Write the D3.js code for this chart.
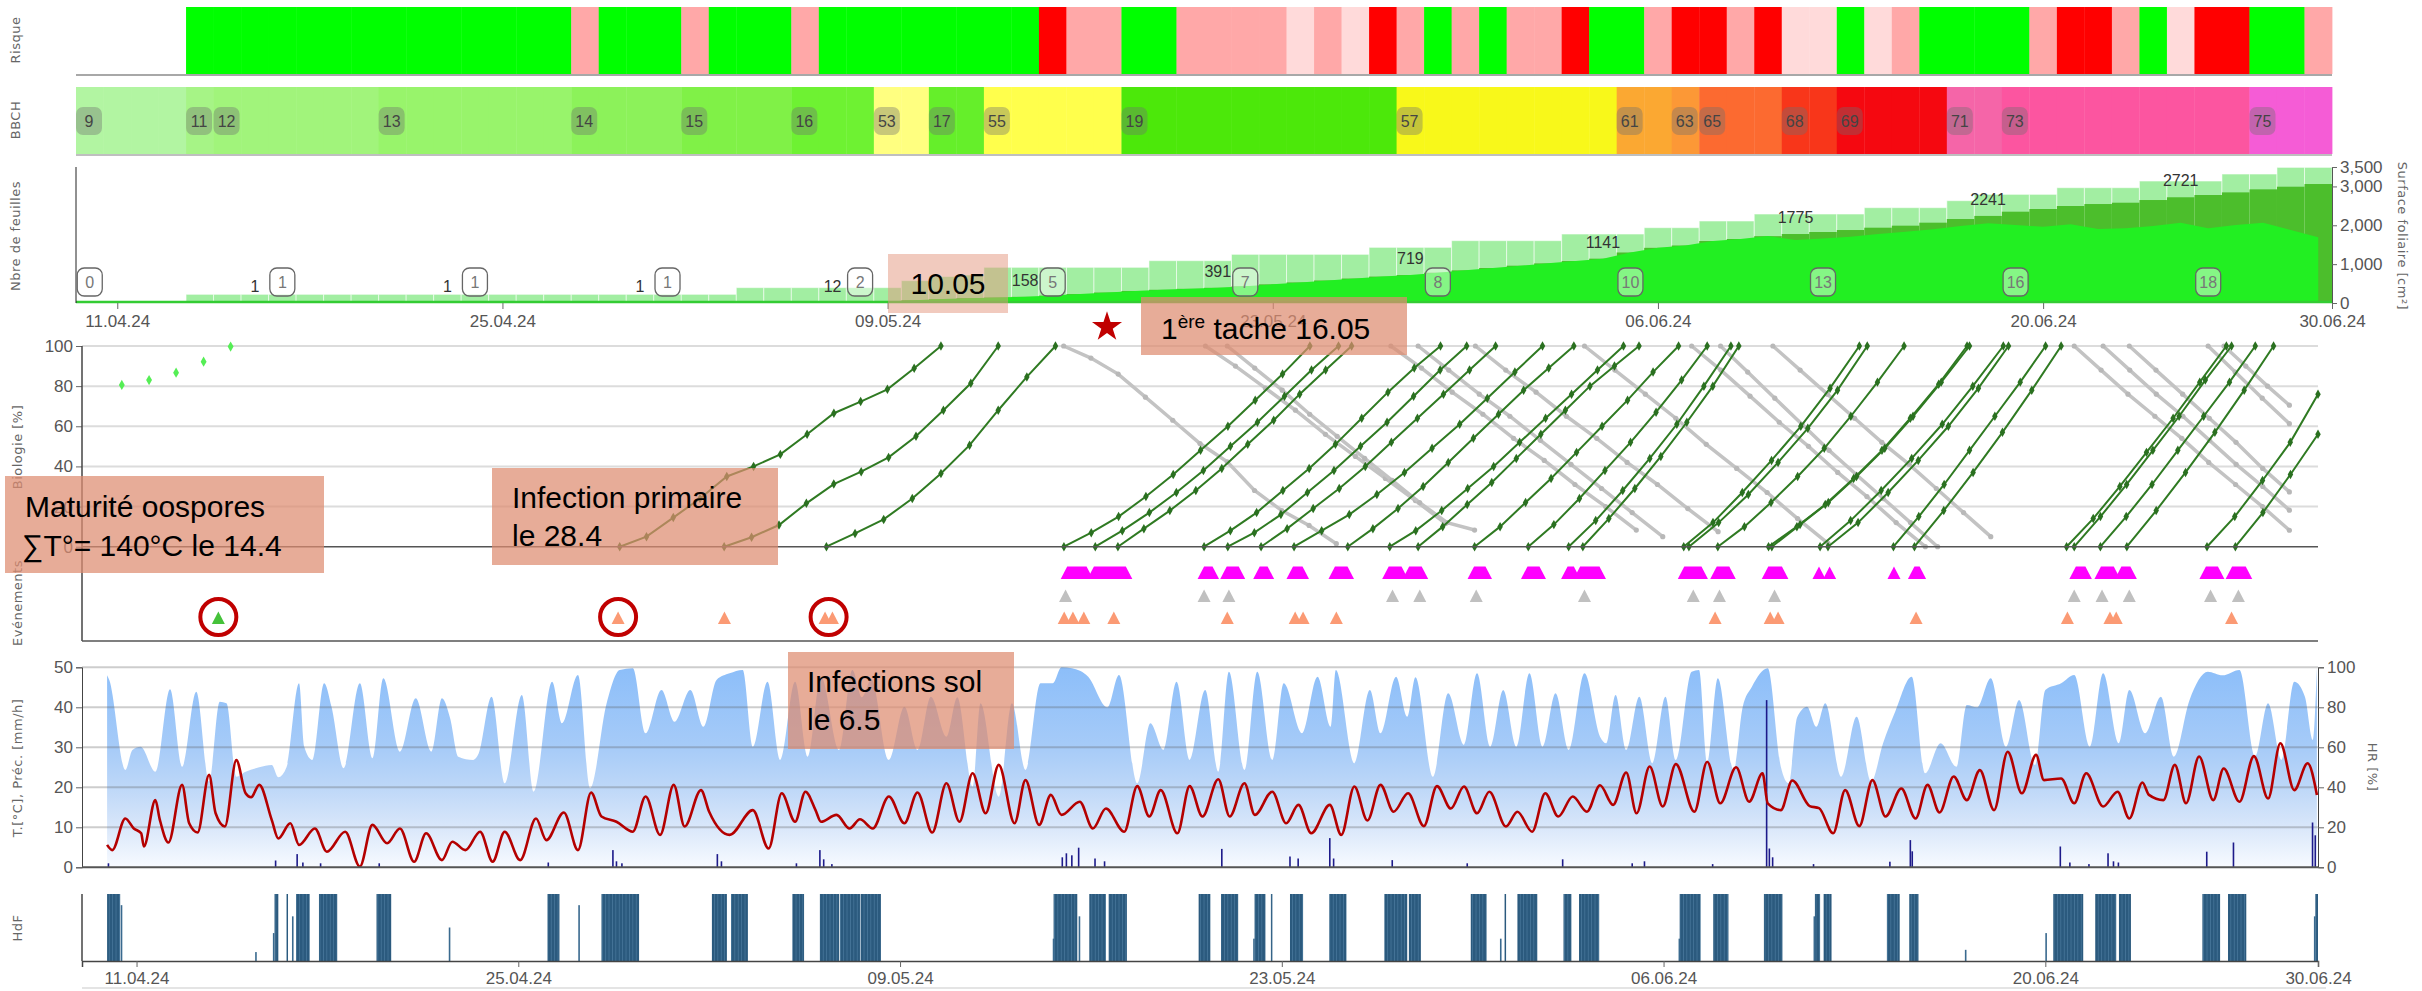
<!DOCTYPE html>
<html>
<head>
<meta charset="utf-8">
<script src="https://cdn.jsdelivr.net/npm/d3@7"></script>
<style>
  body { margin: 0; background: #fff; }
  text { font-family: "Liberation Sans", Arial, sans-serif; }
  .tick text { fill: #555; font-size: 17px; }
  .tick line { stroke: #666; }
  .title { fill: #666; font-size: 13px; font-family: "DejaVu Sans", sans-serif; letter-spacing: 0.5px; }
  .note { font-size: 30px; fill: #000; }
</style>
</head>
<body>
<svg id="chart"></svg>
<script>
// day offsets are counted from 09.04.24 00:00
const BASE = Date.UTC(2024, 3, 9);
const day = d => new Date(BASE + d * 864e5);
const fmt = d3.utcFormat("%d.%m.%y");

// ---------- data ----------
// risk per day cell (10.04 .. 30.06): 0 none, 1 low, 2 medium, 3 high, 4 light
const riskCodes = [0,0,0,0, 1,1,1,1,1,1,1,1,1,1,1,1,1,1, 2, 1,1,1, 2, 1,1,1, 2,
  1,1,1,1,1,1,1,1, 3, 2,2, 1,1, 2,2,2,2, 4, 2, 4, 3, 2, 1, 2, 1, 2,2, 3, 1,1, 2,
  3,3, 2, 3, 4,4, 1, 4, 2, 1,1,1,1, 2, 3,3, 2, 1, 4, 3,3, 1,1, 2];
const riskColors = ["#ffffff", "#00ff00", "#ffa8a8", "#ff0000", "#ffdada"];

const bbchStart = [0, 4, 5, 11, 18, 22, 26, 29, 31, 33, 38, 48, 56, 58, 59, 62, 64, 68, 70, 79];
const bbchLabel = ["9","11","12","13","14","15","16","53","17","55","19","57","61","63","65","68","69","71","73","75"];
const bbchColor = ["#b2f5a2","#a6f486","#a1f47b","#98f46b","#8cf25a","#80f147","#6ef232","#ffff80","#65ef2a",
  "#ffff4c","#4ce80a","#f8f81a","#fba832","#fc9836","#fc6a30","#f8361a","#f50810","#f565a8","#fc55a0","#f55cd6"];

const leafTotal = [0,0,0,0,
  223,223,223,223,223,223,223,223,223,223,223,223,223,223,223,223,223,223,223,223,
  395,395,395,395,395,395, 575,680,720, 918,918,918,918,918,918, 1089,1089,1089,
  1252,1252,1252,1252,1252, 1432,1432,1432, 1604,1604,1604,1604, 1775,1775,1775,
  1938,1938, 2110,2110, 2290,2290,2290,2290, 2453,2453,2453, 2633, 2796,2796,2796,
  2967,2967,2967, 3139,3139,3139, 3319,3319, 3490,3490];
const leafMid = [0,0,0,0, 1,1,1,1,1,1,1,1,1,1,1,1,1,1,1,1,1,
  2,3,4,5,7,9,12, 20,40,70,100,125,140,158, 190,230,270,310,340,365,391,
  430,480,530,580,630,680,719, 780,840,900,960,1020,1080,1141,
  1300,1420,1480,1595,1647,1720,1775, 1827,1878,1938,1990,2067,2161,2241,
  2350,2419,2496,2547,2581,2650,2721, 2779,2847,2925,2993,3062];
const leafHealthy = [0,0,0,0, 1,1,1,1,1,1,1,1,1,1,1,1,1,1,1,1,1,
  2,3,4,5,7,9,12, 20,40,70,100,125,140,158, 190,230,270,310,340,365,391,
  430,480,530,580,630,680,719, 780,840,900,960,1020,1080,1141,
  1300,1420,1480,1595,1647,1724,1620, 1663,1706,1775,1835,1895,1981,2050,
  2007,1964,2024,1904,1921,1981,2067, 1921,2007,2067,1878,1690];
const areaLabelIdx = [6,13,20,27,34,41,48,55,62,69,76];
const leafCountIdx = [0,7,14,21,28,35,42,49,56,63,70,77];
const leafCounts = [0,1,1,1,2,5,7,8,10,13,16,18];

const oosporeDays = [1.46, 2.46, 3.45, 4.46, 5.45];
const oosporeVals = [80.6, 83, 86.7, 92.2, 99.7];

// infection curves: start day, end day, values at evenly spaced steps
const greenCurves = [
  {s:19.72, e:31.5, v:[0,5,14.5,24,35,40,46,56,66.5,72.3,78.4,88.9,100]},
  {s:23.55, e:33.6, v:[0,4.7,10.8,21.6,31.2,37.4,44.5,55,68,81.4,100]},
  {s:27.3, e:35.7, v:[0,6.6,13.6,24,36.5,50.6,68,84.6,100]},
  {s:36.01, e:45.03, v:[0,7,15,25,36,48,60,73,86,100]},
  {s:37.16, e:46.08, v:[0,8,17,27,38,50,62,75,88,100]},
  {s:37.99, e:46.56, v:[0,9,18,28,39,51,63,76,88,100]},
  {s:41.15, e:49.82, v:[0,8,17,28,39,51,64,77,89,100]},
  {s:42.02, e:50.78, v:[0,7,16,27,38,50,62,75,88,100]},
  {s:43.24, e:51.84, v:[0,9,19,29,40,52,64,76,88,100]},
  {s:44.45, e:53.56, v:[0,8,16,26,37,49,61,74,87,100]},
  {s:46.42, e:54.71, v:[0,9,19,30,42,54,66,78,89,100]},
  {s:47.96, e:56.53, v:[0,8,18,29,40,52,64,76,88,100]},
  {s:49.0, e:57.1, v:[0,10,21,32,44,56,68,80,90,100]},
  {s:51.07, e:58.55, v:[0,10,22,34,47,60,73,87,100]},
  {s:53.04, e:59.6, v:[0,11,24,38,52,67,83,100]},
  {s:54.52, e:60.47, v:[0,13,28,44,61,80,100]},
  {s:55.04, e:60.76, v:[0,14,29,45,62,80,100]},
  {s:58.74, e:65.18, v:[0,12,27,43,60,79,100]},
  {s:58.93, e:65.47, v:[0,12,26,42,59,78,100]},
  {s:59.99, e:66.82, v:[0,10,22,35,49,65,82,100]},
  {s:61.85, e:69.13, v:[0,10,21,34,48,64,81,100]},
  {s:61.97, e:69.22, v:[0,11,22,35,49,65,82,100]},
  {s:63.74, e:70.46, v:[0,13,28,44,61,80,100]},
  {s:64.03, e:70.65, v:[0,12,27,43,60,79,100]},
  {s:66.43, e:72.01, v:[0,15,31,48,65,82,100]},
  {s:67.2, e:72.58, v:[0,18,37,57,78,100]},
  {s:72.78, e:78.64, v:[0,14,30,47,64,82,100]},
  {s:73.06, e:78.83, v:[0,15,31,48,65,83,100]},
  {s:74.02, e:79.7, v:[0,15,31,48,65,82,100]},
  {s:74.99, e:80.37, v:[0,18,37,57,78,100]},
  {s:77.93, e:82.0, v:[0,15,33,52,76]},
  {s:78.97, e:82.0, v:[0,17,36,56]}
];
const greyCurves = [
  {s:36.0, e:46.0, v:[100,94,86,74.5,63,51.4,42.3,28,18,10.6,1.5]},
  {s:41.2, e:50.0, v:[100,90,79,68,56,45,34,23,11.6]},
  {s:42.0, e:51.07, v:[100,89,78,66,55,44,33,22,12,8.3]},
  {s:48.0, e:57.0, v:[100,89,77,66,54,43,31,20,8.3]},
  {s:49.0, e:57.97, v:[100,88,76,65,53,41,29,17,5]},
  {s:51.1, e:60.0, v:[100,88,77,65,54,42,31,19,7.5]},
  {s:55.1, e:64.03, v:[100,88,76,64,51,39,27,14,1.7]},
  {s:59.03, e:67.6, v:[100,88,75,62,50,37,25,12,0]},
  {s:60.09, e:68.05, v:[100,87,74,61,48,36,24,12,0]},
  {s:62.01, e:70.0, v:[100,88,76,64,52,41,29,17,5]},
  {s:73.06, e:80.95, v:[100,88,76,65,54,42,31,20,8.2]},
  {s:74.12, e:80.95, v:[100,88,76,65,53,41,30,18.2]},
  {s:75.08, e:80.95, v:[100,88,76,64,52,39,27.3]},
  {s:77.97, e:80.95, v:[100,87,74,61.3]},
  {s:78.55, e:80.95, v:[100,90,80,70.5]}
];

// events (day offsets)
const sporulation = [[36.13,36.84],[37.11,38.28],[41.15,41.46],[41.98,42.42],[43.19,43.48],[44.41,44.76],
  [45.95,46.41],[47.92,48.39],[48.67,49.13],[51.05,51.47],[53.01,53.45],[54.48,54.71],[54.94,55.65],
  [58.76,59.39],[59.95,60.41],[61.84,62.34],[63.7,63.7],[64.09,64.09],[66.45,66.45],[67.2,67.39],
  [73.12,73.47],[74.04,74.51],[74.79,75.12],[77.89,78.33],[78.85,79.35]];
const greyEvents = [36.07,41.15,42.06,48.06,49.06,51.13,55.1,59.09,60.05,62.07,73.06,74.08,75.08,78.06,79.08];
const salmonEvents = [19.66,23.56,27.25,27.52,36.02,36.34,36.74,37.84,42.0,44.49,44.78,46.0,
  59.89,61.91,62.2,67.26,72.81,74.37,74.6,78.83];
const greenEvents = [5.0];
const circledEvents = [5.0, 19.66, 27.38];

// weather: [day, value]
const tempPts = [[0.92,5.6],[1.11,4.3],[1.59,12.2],[1.9,9.7],[2.17,8.5],[2.27,5.2],[2.69,16.8],[2.85,12],[3.17,6.2],
  [3.67,20.6],[3.93,11],[4.24,8.7],[4.66,23.1],[4.9,13.5],[5.24,10.2],[5.66,26.8],[6.0,18.5],[6.2,17.5],[6.5,20.6],
  [6.96,11.8],[7.2,7.2],[7.64,11],[7.96,5.6],[8.54,9.7],[8.98,3.9],[9.65,8.9],[10.19,0.2],[10.65,10.6],[11.19,6],
  [11.66,9.7],[12.18,1.4],[12.62,8.5],[13.2,1.8],[13.58,6.4],[14.06,4.3],[14.6,8.9],[15.06,1.4],[15.5,8.9],
  [16.07,1.8],[16.65,12.2],[17.03,6.8],[17.67,13.7],[18.19,4.3],[18.67,18.7],[19.05,12.7],[19.6,11.4],[20.2,8.9],
  [20.67,17.7],[21.2,8.1],[21.7,20.6],[22.1,10.2],[22.7,19.3],[23.0,13.9],[23.75,8.1],[24.6,14.3],[25.18,4.7],
  [25.66,18.5],[26.15,11.4],[26.53,18.9],[26.9,14.3],[27.1,11.4],[27.67,13.1],[28.15,9.7],[28.53,12],[29.0,9.7],
  [29.59,17.7],[30.16,11],[30.64,18.7],[31.18,8.7],[31.7,21],[32.18,11.4],[32.66,23.5],[33.14,13.5],[33.62,25.6],
  [34.2,11],[34.6,21.8],[35.1,10.6],[35.53,18.1],[35.92,13.1],[36.59,16.4],[37.07,9.7],[37.55,14.7],[38.22,8.9],
  [38.7,20.3],[39.14,12.7],[39.56,19.3],[40.17,8.5],[40.62,20.3],[41.09,12.7],[41.67,22],[42.09,12.7],[42.63,21],
  [43.01,13.1],[43.65,18.9],[44.16,11],[44.61,15.6],[45.08,8.5],[45.76,15.6],[46.18,8.1],[46.66,20.2],[47.14,11.7],
  [47.62,20.6],[48.1,13.9],[48.63,18.5],[49.21,10.3],[49.69,20.3],[50.2,14.7],[50.68,20.2],[51.16,13.5],[51.61,18.9],
  [52.22,10.2],[52.64,13.9],[53.18,8.9],[53.66,18.5],[54.14,12.7],[54.67,17.7],[55.19,13.9],[55.67,20.5],[56.15,15.6],
  [56.63,23.7],[57.01,13.5],[57.49,25.2],[57.97,15.2],[58.45,25.8],[59.13,13.9],[59.6,26.4],[60.08,16],[60.66,25],
  [61.14,16.4],[61.63,23.5],[61.82,16],[62.3,14.3],[62.72,21.7],[63.36,15.3],[63.7,14.8],[64.22,8.5],[64.66,19.3],
  [65.18,10.3],[65.66,21.8],[66.14,12.7],[66.72,19.7],[67.24,12.2],[67.68,20.6],[68.12,13.7],[68.64,22.7],
  [69.12,16.8],[69.6,24.3],[70.12,14.3],[70.62,28.9],[71.14,18.5],[71.66,28.1],[71.95,21.8],[72.58,22.2],[73.06,16],
  [73.5,23.5],[74.12,15.2],[74.65,18.9],[75.08,12.2],[75.56,21.2],[75.8,18.1],[76.33,16.8],[76.75,25.6],[77.16,16],
  [77.64,27.7],[78.16,16.8],[78.54,24.7],[79.12,16.4],[79.65,27.8],[80.17,17.2],[80.62,31],[81.13,19.3],[81.62,26],
  [81.96,18.1]];
const hrPts = [[0.92,96],[1.0,93.7],[1.59,48.7],[1.85,58.7],[2.15,60.3],[2.69,47.8],[3.23,89],[3.67,50.3],[4.19,87.8],
  [4.66,42.8],[5.05,82.8],[5.3,82],[5.66,45.3],[6.0,47.8],[6.5,50],[6.96,51.2],[7.2,45],[7.5,50],[7.96,92],[8.15,60.3],
  [8.45,53.7],[8.88,92],[9.15,80.3],[9.59,49.5],[10.19,92],[10.65,54.5],[11.05,94.5],[11.66,57.8],[12.24,84.5],
  [12.81,57.8],[13.2,84.5],[13.5,74.5],[13.8,55.3],[14.35,53.7],[14.55,57],[15.02,85.3],[15.5,42],[16.13,86.2],
  [16.56,37.8],[17.24,92.8],[17.6,72],[18.19,96.2],[18.63,39.5],[19.24,82],[19.72,98.7],[20.2,99.5],[20.67,67],
  [21.25,88.7],[21.73,72.8],[22.31,88.7],[22.79,70.3],[23.27,93.7],[23.75,97],[24.23,98.7],[24.6,60.3],[25.14,92.8],
  [25.6,53.7],[26.15,92.8],[26.62,55.3],[27.1,95.3],[27.77,58.7],[28.25,98.7],[28.6,85],[28.95,94],[29.59,53.7],
  [30.16,80.3],[30.64,58.7],[31.13,85.3],[31.7,65.3],[32.1,85],[32.66,40.3],[32.95,82],[33.62,35.3],[34.1,82],
  [34.6,48.7],[35.15,92],[35.6,92],[35.92,100],[36.3,99.5],[36.9,95.3],[37.6,80],[38.03,96.2],[38.7,42],[39.18,72],
  [39.66,58.7],[40.14,92.8],[40.62,53.7],[41.19,88.7],[41.67,47.8],[42.06,97.8],[42.63,48.7],[43.1,97.8],[43.65,53.7],
  [44.07,92],[44.74,67],[45.31,95.3],[45.79,70.3],[45.98,98.7],[46.66,52],[47.23,88.7],[47.62,67],[48.19,95.3],
  [48.6,75.3],[48.9,95],[49.54,45.3],[50.1,87],[50.68,61.2],[51.16,97],[51.64,60.3],[52.12,88.7],[52.6,60.3],[53.08,97],
  [53.56,60.3],[54.04,87],[54.52,58.7],[55.1,97],[55.67,65.3],[55.9,62],[56.24,86.2],[56.63,58.7],[57.11,85.3],
  [57.59,52],[58.07,85.3],[58.45,53.7],[59.03,97.8],[59.3,98.6],[59.6,52],[59.99,94.5],[60.57,48.7],[60.9,80],
  [61.24,90.3],[61.82,99.5],[62.3,50.3],[62.59,42],[62.9,75],[63.26,80.3],[63.6,70.3],[63.93,82],[64.51,45.3],
  [65.08,75.3],[65.61,42.8],[66.05,62],[66.5,78],[67.1,95.3],[67.59,47],[68.16,62],[68.74,50.3],[69.12,81.2],[69.5,80],
  [70.0,94.5],[70.56,60.3],[71.04,83.7],[71.62,51.2],[72.0,88.7],[72.58,92],[73.06,96.2],[73.64,60.3],[74.12,97],
  [74.69,62],[75.08,88.7],[75.66,67],[76.24,85.3],[76.71,55.3],[77.29,83.7],[77.96,97.8],[78.5,96],[79.12,98.7],
  [79.69,55.3],[80.17,82],[80.66,53.7],[81.13,92.8],[81.52,85.3],[81.81,63.7],[81.96,100]];
const precipPts = [[0.97,1],[7.1,1.7],[7.89,3.3],[8.1,1.2],[8.75,1],[10.9,1],[17.1,1.2],[19.47,4.3],[19.6,1.5],
  [19.8,1],[23.3,3.3],[23.45,1.5],[26.2,1],[27.06,4.3],[27.2,2],[27.5,0.8],[35.95,2.5],[36.1,3.5],[36.3,3],
  [36.55,4.9],[37.15,2.2],[37.5,1.5],[41.8,4.6],[44.3,2.7],[44.6,2.2],[45.76,7.3],[45.9,2.2],[48.05,1.8],[50.8,1],
  [54.3,2],[56.85,1],[57.3,1.5],[59.8,0.8],[61.78,41.8],[61.88,4.7],[62.0,2.5],[63.5,0.8],[66.3,1.4],[67.05,6.8],
  [67.12,4],[72.55,5.2],[72.9,1.2],[73.6,0.8],[74.3,3.5],[74.5,1.5],[74.68,1.2],[77.92,3.9],[78.9,6.2],[81.8,11.2],[81.9,8]];

// leaf wetness: full-hour periods and single partial hours [day, minutes]
const wetPeriods = [[0.92,1.4],[7.06,7.2],[7.5,7.53],[7.85,8.35],[8.69,9.36],[10.8,11.34],[17.07,17.51],[19.05,20.43],
  [23.1,23.65],[23.8,24.42],[26.05,26.48],[27.06,27.77],[27.8,28.53],[28.55,29.3],[35.63,36.5],[36.94,37.55],
  [37.65,38.32],[40.95,41.38],[41.77,42.4],[43.0,43.4],[43.6,43.65],[44.3,44.78],[45.74,46.37],[47.76,48.6],
  [48.66,49.1],[50.93,51.51],[52.17,52.2],[52.64,53.37],[54.33,54.62],[54.9,55.64],[58.59,59.36],[59.82,60.38],
  [61.68,62.36],[63.55,63.74],[63.87,64.16],[66.19,66.66],[67.01,67.35],[72.29,73.39],[73.83,74.6],[74.7,75.14],
  [77.76,78.41],[78.7,79.37],[81.9,82.0]];
const wetPartial = [[1.42,50],[6.35,8],[7.0,25],[7.7,40],[13.45,30],[18.2,50],[35.6,20],[36.55,40],[42.95,20],
  [52.0,20],[58.55,20],[63.5,40],[69.05,10],[72.0,25],[81.85,40]];

const tickDays = [2, 16, 30, 44, 58, 72];

// ---------- layout ----------
const svg = d3.select("#chart").attr("width", 2422).attr("height", 991);

const xTop = d3.scaleUtc().domain([day(0.5), day(82.5)]).range([76, 2332]);
const xBot = d3.scaleUtc().domain([day(0), day(82)]).range([82, 2318]);
const cellX = k => xTop(day(k + 0.5));
const cellW = k => xTop(day(k + 1.5)) - xTop(day(k + 0.5));
const cellC = k => xTop(day(k + 1));

function leftTitle(txt, x, y) {
  svg.append("text").attr("class", "title")
    .attr("transform", `translate(${x},${y}) rotate(-90)`)
    .attr("text-anchor", "middle").text(txt);
}

const defs = svg.append("defs");
// faint hourly stripes on leaf wetness bars
const pat = defs.append("pattern").attr("id", "wetStripe").attr("patternUnits", "userSpaceOnUse")
  .attr("width", 3.4).attr("height", 10);
pat.append("rect").attr("width", 3.4).attr("height", 10).attr("fill", "#2b5a7e");
pat.append("rect").attr("width", 0.7).attr("height", 10).attr("fill", "#4a7a9e");

// ---------- risk band ----------
svg.append("g").selectAll("rect").data(riskCodes).join("rect")
  .attr("x", (c, k) => cellX(k)).attr("width", (c, k) => cellW(k) + 0.4)
  .attr("y", 7).attr("height", 67)
  .attr("fill", c => riskColors[c]);
svg.append("line").attr("x1", 76).attr("x2", 2332).attr("y1", 75).attr("y2", 75)
  .attr("stroke", "#a8a8a8").attr("stroke-width", 2);
leftTitle("Risque", 20, 40);

// ---------- BBCH band ----------
const stageOf = k => d3.bisectRight(bbchStart, k) - 1;
svg.append("g").selectAll("rect").data(d3.range(82)).join("rect")
  .attr("x", k => cellX(k)).attr("width", k => cellW(k) + 0.4)
  .attr("y", 87).attr("height", 67)
  .attr("fill", k => bbchColor[stageOf(k)]);
svg.append("line").attr("x1", 76).attr("x2", 2332).attr("y1", 155).attr("y2", 155)
  .attr("stroke", "rgba(0,0,0,0.25)").attr("stroke-width", 2);
const bb = svg.append("g").selectAll("g").data(bbchStart).join("g")
  .attr("transform", k => `translate(${cellX(k)},107)`);
bb.append("rect").attr("width", 26).attr("height", 28).attr("rx", 7)
  .attr("fill", "rgba(110,110,110,0.38)");
bb.append("text").attr("x", 13).attr("y", 20).attr("text-anchor", "middle")
  .attr("font-size", 16).attr("fill", "#444").text((k, i) => bbchLabel[i]);
leftTitle("BBCH", 20, 120);

// ---------- leaves ----------
const yLeaf = d3.scaleLinear().domain([0, 3500]).range([303, 167]);
svg.append("g").selectAll("rect").data(leafTotal).join("rect")
  .attr("x", (v, k) => cellX(k)).attr("width", (v, k) => cellW(k))
  .attr("y", v => yLeaf(v)).attr("height", v => 303 - yLeaf(v))
  .attr("fill", "#a2eea2").attr("stroke", "rgba(255,255,255,0.55)").attr("stroke-width", 1);
svg.append("g").selectAll("rect").data(leafMid).join("rect")
  .attr("x", (v, k) => cellX(k)).attr("width", (v, k) => cellW(k))
  .attr("y", v => yLeaf(v)).attr("height", v => 303 - yLeaf(v))
  .attr("fill", "#4cbe2c");
svg.append("path").datum(leafHealthy)
  .attr("d", d3.area().x((v, k) => cellC(k)).y0(303).y1(v => yLeaf(v)))
  .attr("fill", "#22ef22");
svg.append("line").attr("x1", 76).attr("x2", 2332).attr("y1", 302).attr("y2", 302)
  .attr("stroke", "#33cc33").attr("stroke-width", 2.5);
svg.append("line").attr("x1", 76).attr("x2", 76).attr("y1", 167).attr("y2", 303)
  .attr("stroke", "#222").attr("stroke-width", 1);

svg.append("g").selectAll("text").data(areaLabelIdx).join("text")
  .attr("x", k => cellC(k)).attr("y", k => yLeaf(leafMid[k]) - 11)
  .attr("text-anchor", "middle").attr("font-size", 16).attr("fill", "#333")
  .text(k => leafMid[k]);
const lc = svg.append("g").selectAll("g").data(leafCountIdx).join("g")
  .attr("transform", k => `translate(${cellC(k)},282)`);
lc.append("rect").attr("x", -12.5).attr("y", -14).attr("width", 25).attr("height", 28).attr("rx", 7)
  .attr("fill", "rgba(255,255,255,0.45)").attr("stroke", "#666").attr("stroke-width", 1.3);
lc.append("text").attr("y", 6).attr("text-anchor", "middle").attr("font-size", 16)
  .attr("fill", "#777").text((k, i) => leafCounts[i]);

svg.append("g").attr("transform", "translate(2332,0)")
  .call(d3.axisRight(yLeaf).tickValues([0, 1000, 2000, 3000, 3500]).tickFormat(d3.format(",")).tickSize(5))
  .call(g => g.select(".domain").attr("stroke", "#555"));
svg.append("g").attr("transform", "translate(0,303)")
  .call(d3.axisBottom(xTop).tickValues(tickDays.map(day).concat([day(82.5)])).tickFormat(fmt).tickSize(6).tickPadding(6))
  .call(g => g.select(".domain").remove());
leftTitle("Nbre de feuilles", 20, 236);
svg.append("text").attr("class", "title")
  .attr("transform", "translate(2398,236) rotate(90)").attr("text-anchor", "middle")
  .text("Surface foliaire [cm²]");

// ---------- biology ----------
const yBio = d3.scaleLinear().domain([0, 100]).range([546.7, 346]);
svg.append("g").selectAll("line").data([20, 40, 60, 80, 100]).join("line")
  .attr("x1", 82).attr("x2", 2318).attr("y1", v => yBio(v)).attr("y2", v => yBio(v))
  .attr("stroke", "#dcdcdc").attr("stroke-width", 2);
svg.append("g").attr("transform", "translate(82,0)")
  .call(d3.axisLeft(yBio).tickValues([0, 20, 40, 60, 80, 100]).tickSize(6))
  .call(g => g.select(".domain").remove());
svg.append("line").attr("x1", 82).attr("x2", 82).attr("y1", 346).attr("y2", 641)
  .attr("stroke", "#444").attr("stroke-width", 1.5);

const curvePts = c => c.v.map((v, i) => ({ t: day(c.s + (c.e - c.s) * i / (c.v.length - 1)), v }));
const bioLine = d3.line().x(p => xBot(p.t)).y(p => yBio(p.v));
const greyG = svg.append("g");
greyCurves.forEach(c => {
  const pts = curvePts(c);
  greyG.append("path").attr("d", bioLine(pts)).attr("fill", "none")
    .attr("stroke", "#c3c3c3").attr("stroke-width", 3.5);
  greyG.selectAll(null).data(pts).join("circle")
    .attr("cx", p => xBot(p.t)).attr("cy", p => yBio(p.v)).attr("r", 2.6).attr("fill", "#b8b8b8");
});
const greenG = svg.append("g");
const diamond = d3.symbol(d3.symbolDiamond).size(26);
greenCurves.forEach(c => {
  const pts = curvePts(c);
  greenG.append("path").attr("d", bioLine(pts)).attr("fill", "none")
    .attr("stroke", "#2f7a22").attr("stroke-width", 2);
  greenG.selectAll(null).data(pts).join("path").attr("d", diamond)
    .attr("transform", p => `translate(${xBot(p.t)},${yBio(p.v)})`).attr("fill", "#2a7020");
});
svg.append("g").selectAll("path").data(oosporeDays).join("path")
  .attr("d", d3.symbol(d3.symbolDiamond).size(30))
  .attr("transform", (d, i) => `translate(${xBot(day(d))},${yBio(oosporeVals[i])})`)
  .attr("fill", "#55ee55");
svg.append("line").attr("x1", 82).attr("x2", 2318).attr("y1", 546.7).attr("y2", 546.7)
  .attr("stroke", "#555").attr("stroke-width", 1.5);
leftTitle("Biologie [%]", 22, 447);

// ---------- events ----------
const rowY = { spor: 579, grey: 602, salmon: 624 };
const trap = (s, e, yb) => {
  const a = xBot(day(s)), b = xBot(day(e));
  return `M${a - 6.5},${yb}L${a},${yb - 12.5}L${b},${yb - 12.5}L${b + 6.5},${yb}Z`;
};
const ev = svg.append("g");
ev.selectAll(".sp").data(sporulation).join("path").attr("d", p => trap(p[0], p[1], rowY.spor)).attr("fill", "#ff00ff");
ev.selectAll(".gr").data(greyEvents).join("path").attr("d", d => trap(d, d, rowY.grey)).attr("fill", "#c0c0c0");
ev.selectAll(".sa").data(salmonEvents).join("path").attr("d", d => trap(d, d, rowY.salmon)).attr("fill", "#fb9a74");
ev.selectAll(".gn").data(greenEvents).join("path").attr("d", d => trap(d, d, rowY.salmon)).attr("fill", "#45c23a");
ev.selectAll(".ci").data(circledEvents).join("ellipse")
  .attr("cx", d => xBot(day(d))).attr("cy", 617).attr("rx", 18).attr("ry", 18)
  .attr("fill", "none").attr("stroke", "#c00000").attr("stroke-width", 4);
svg.append("line").attr("x1", 82).attr("x2", 2318).attr("y1", 641).attr("y2", 641)
  .attr("stroke", "#555").attr("stroke-width", 1.5);
leftTitle("Evénements", 22, 603);

// ---------- weather ----------
const yT = d3.scaleLinear().domain([0, 50]).range([867.3, 667.3]);
const yHR = d3.scaleLinear().domain([0, 100]).range([867.3, 667.3]);
const grad = defs.append("linearGradient").attr("id", "hrGrad")
  .attr("gradientUnits", "userSpaceOnUse").attr("x1", 0).attr("x2", 0).attr("y1", 667).attr("y2", 867);
[[0, "#8cbef9"], [0.4, "#a6cbf8"], [0.6, "#bdd7f8"], [0.8, "#d9e7fa"], [1, "#f7faff"]]
  .forEach(s => grad.append("stop").attr("offset", s[0]).attr("stop-color", s[1]));
svg.append("path").datum(hrPts)
  .attr("d", d3.area().curve(d3.curveMonotoneX).x(p => xBot(day(p[0]))).y0(867.3).y1(p => yHR(p[1])))
  .attr("fill", "url(#hrGrad)");
svg.append("g").selectAll("line").data([10, 20, 30, 40, 50]).join("line")
  .attr("x1", 82).attr("x2", 2318).attr("y1", v => yT(v)).attr("y2", v => yT(v))
  .attr("stroke", "rgba(90,90,90,0.3)").attr("stroke-width", 2);
svg.append("g").selectAll("rect").data(precipPts).join("rect")
  .attr("x", p => xBot(day(p[0])) - 0.8).attr("width", 1.6)
  .attr("y", p => yT(p[1])).attr("height", p => 867.3 - yT(p[1]))
  .attr("fill", "#1d1a8a");
svg.append("path").datum(tempPts)
  .attr("d", d3.line().curve(d3.curveMonotoneX).x(p => xBot(day(p[0]))).y(p => yT(p[1])))
  .attr("fill", "none").attr("stroke", "#b40000").attr("stroke-width", 2.6);
svg.append("g").attr("transform", "translate(82,0)")
  .call(d3.axisLeft(yT).tickValues([0, 10, 20, 30, 40, 50]).tickSize(6))
  .call(g => g.select(".domain").attr("stroke", "#444"));
svg.append("g").attr("transform", "translate(2318,0)")
  .call(d3.axisRight(yHR).tickValues([0, 20, 40, 60, 80, 100]).tickSize(6))
  .call(g => g.select(".domain").attr("stroke", "#444"));
svg.append("line").attr("x1", 82).attr("x2", 2318).attr("y1", 867.3).attr("y2", 867.3)
  .attr("stroke", "#555").attr("stroke-width", 2);
leftTitle("T.[°C], Préc. [mm/h]", 22, 768);
svg.append("text").attr("class", "title")
  .attr("transform", "translate(2368,767) rotate(90)").attr("text-anchor", "middle").text("HR [%]");

// ---------- leaf wetness ----------
const yWet = d3.scaleLinear().domain([0, 60]).range([961, 894]);
svg.append("g").selectAll("rect").data(wetPeriods).join("rect")
  .attr("x", p => xBot(day(p[0]))).attr("width", p => Math.max(1.5, xBot(day(p[1])) - xBot(day(p[0]))))
  .attr("y", yWet(60)).attr("height", 961 - yWet(60)).attr("fill", "url(#wetStripe)");
svg.append("g").selectAll("rect").data(wetPartial).join("rect")
  .attr("x", p => xBot(day(p[0]))).attr("width", 1.6)
  .attr("y", p => yWet(p[1])).attr("height", p => 961 - yWet(p[1])).attr("fill", "#3a6a8f");
svg.append("line").attr("x1", 82).attr("x2", 82).attr("y1", 894).attr("y2", 961)
  .attr("stroke", "#444").attr("stroke-width", 1.5);
svg.append("g").attr("transform", "translate(0,961)")
  .call(d3.axisBottom(xBot).tickValues(tickDays.concat([82]).map(day)).tickFormat(fmt).tickSize(6).tickPadding(5))
  .call(g => g.select(".domain").attr("stroke", "#444").attr("stroke-width", 1.5));
svg.append("line").attr("x1", 82).attr("x2", 2326).attr("y1", 988).attr("y2", 988)
  .attr("stroke", "#e4e4e4").attr("stroke-width", 2);
leftTitle("HdF", 22, 928);

// ---------- annotations ----------
const noteFill = "rgba(222,140,112,0.72)";
svg.append("rect").attr("x", 888).attr("y", 254).attr("width", 120).attr("height", 59).attr("fill", "rgba(228,150,125,0.5)");
svg.append("text").attr("class", "note").attr("x", 948).attr("y", 294).attr("text-anchor", "middle").text("10.05");

svg.append("rect").attr("x", 1141).attr("y", 297).attr("width", 266).attr("height", 58).attr("fill", noteFill);
const t2 = svg.append("text").attr("class", "note").attr("x", 1161).attr("y", 339);
t2.append("tspan").text("1");
t2.append("tspan").attr("dy", -11).attr("font-size", 19).text("ère");
t2.append("tspan").attr("dy", 11).text(" tache 16.05");
svg.append("path").attr("d", d3.symbol(d3.symbolStar).size(280))
  .attr("transform", "translate(1107,327)").attr("fill", "#c00000");

svg.append("rect").attr("x", 5).attr("y", 476).attr("width", 319).attr("height", 97).attr("fill", noteFill);
svg.append("text").attr("class", "note").attr("x", 25).attr("y", 517).text("Maturité oospores");
svg.append("text").attr("class", "note").attr("x", 22).attr("y", 556).text("∑T°= 140°C le 14.4");

svg.append("rect").attr("x", 492).attr("y", 468).attr("width", 286).attr("height", 97).attr("fill", noteFill);
svg.append("text").attr("class", "note").attr("x", 512).attr("y", 508).text("Infection primaire");
svg.append("text").attr("class", "note").attr("x", 512).attr("y", 546).text("le 28.4");

svg.append("rect").attr("x", 788).attr("y", 652).attr("width", 226).attr("height", 97).attr("fill", noteFill);
svg.append("text").attr("class", "note").attr("x", 807).attr("y", 692).text("Infections sol");
svg.append("text").attr("class", "note").attr("x", 807).attr("y", 730).text("le 6.5");
</script>
</body>
</html>
